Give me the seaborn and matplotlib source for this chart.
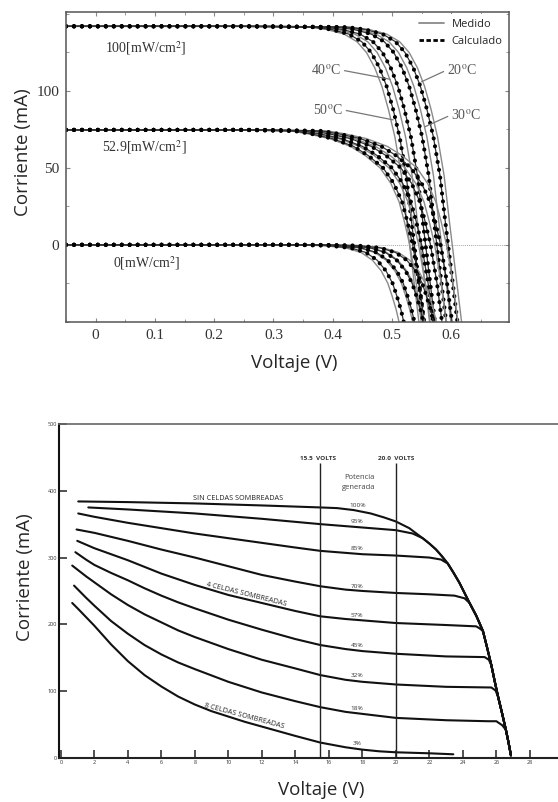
import matplotlib
matplotlib.use('Agg')
import matplotlib.pyplot as plt
from matplotlib.lines import Line2D
from matplotlib.ticker import MultipleLocator
import seaborn as sns

sns.set_style('ticks')
plt.rcParams['font.family'] = ['Open Sans', 'DejaVu Sans']
plt.rcParams['mathtext.fontset'] = 'stix'

# ---------------- top chart: I-V curves, 3 irradiances x 4 temperatures ----------------
# current levels (mA) read along each irradiance family
i_g100 = [142, 142, 141.5, 140, 137, 132, 125, 115, 103, 88, 70, 45, 15, -20, -55]
i_g53 = [74.7, 74.7, 74, 72, 69, 64, 58, 50, 40, 28, 15, 0, -25, -55]
i_g0 = [0, 0, -0.5, -2, -5, -10, -17, -25, -33, -42, -52, -60]

# voltages (V) at those levels, measured (m) and calculated (c), 20/30/40/50 C
v100_m20 = [-0.05, 0.301, 0.431, 0.461, 0.491, 0.513, 0.529, 0.543, 0.555, 0.566, 0.577, 0.588, 0.597, 0.608, 0.619]
v100_m30 = [-0.05, 0.283, 0.413, 0.443, 0.473, 0.495, 0.511, 0.525, 0.537, 0.548, 0.559, 0.570, 0.579, 0.590, 0.601]
v100_m40 = [-0.05, 0.247, 0.377, 0.407, 0.437, 0.459, 0.475, 0.489, 0.501, 0.512, 0.523, 0.534, 0.543, 0.554, 0.565]
v100_m50 = [-0.05, 0.229, 0.359, 0.389, 0.419, 0.441, 0.457, 0.471, 0.483, 0.494, 0.505, 0.516, 0.525, 0.536, 0.547]
v100_c20 = [-0.05, 0.294, 0.424, 0.454, 0.484, 0.506, 0.522, 0.536, 0.548, 0.559, 0.570, 0.581, 0.590, 0.601, 0.612]
v100_c30 = [-0.05, 0.275, 0.405, 0.435, 0.465, 0.487, 0.503, 0.517, 0.529, 0.540, 0.551, 0.562, 0.571, 0.582, 0.593]
v100_c40 = [-0.05, 0.256, 0.386, 0.416, 0.446, 0.468, 0.484, 0.498, 0.510, 0.521, 0.532, 0.543, 0.552, 0.563, 0.574]
v100_c50 = [-0.05, 0.237, 0.367, 0.397, 0.427, 0.449, 0.465, 0.479, 0.491, 0.502, 0.513, 0.524, 0.533, 0.544, 0.555]

v53_m20 = [-0.05, 0.292, 0.392, 0.422, 0.457, 0.492, 0.517, 0.542, 0.560, 0.574, 0.583, 0.592, 0.603, 0.613]
v53_m30 = [-0.05, 0.272, 0.372, 0.402, 0.437, 0.472, 0.497, 0.522, 0.540, 0.554, 0.563, 0.572, 0.583, 0.593]
v53_m40 = [-0.05, 0.245, 0.345, 0.375, 0.410, 0.445, 0.470, 0.495, 0.513, 0.527, 0.536, 0.545, 0.556, 0.566]
v53_m50 = [-0.05, 0.230, 0.330, 0.360, 0.395, 0.430, 0.455, 0.480, 0.498, 0.512, 0.521, 0.530, 0.541, 0.551]
v53_c20 = [-0.05, 0.282, 0.382, 0.412, 0.447, 0.482, 0.507, 0.532, 0.550, 0.564, 0.573, 0.582, 0.593, 0.603]
v53_c30 = [-0.05, 0.265, 0.365, 0.395, 0.430, 0.465, 0.490, 0.515, 0.533, 0.547, 0.556, 0.565, 0.576, 0.586]
v53_c40 = [-0.05, 0.250, 0.350, 0.380, 0.415, 0.450, 0.475, 0.500, 0.518, 0.532, 0.541, 0.550, 0.561, 0.571]
v53_c50 = [-0.05, 0.235, 0.335, 0.365, 0.400, 0.435, 0.460, 0.485, 0.503, 0.517, 0.526, 0.535, 0.546, 0.556]

v0_m20 = [-0.05, 0.375, 0.446, 0.485, 0.511, 0.530, 0.545, 0.556, 0.563, 0.570, 0.576, 0.580]
v0_m30 = [-0.05, 0.355, 0.426, 0.465, 0.491, 0.510, 0.525, 0.536, 0.543, 0.550, 0.556, 0.560]
v0_m40 = [-0.05, 0.335, 0.406, 0.445, 0.471, 0.490, 0.505, 0.516, 0.523, 0.530, 0.536, 0.540]
v0_m50 = [-0.05, 0.312, 0.383, 0.422, 0.448, 0.467, 0.482, 0.493, 0.500, 0.507, 0.513, 0.517]
v0_c20 = [-0.05, 0.370, 0.441, 0.480, 0.506, 0.525, 0.540, 0.551, 0.558, 0.565, 0.571, 0.575]
v0_c30 = [-0.05, 0.353, 0.424, 0.463, 0.489, 0.508, 0.523, 0.534, 0.541, 0.548, 0.554, 0.558]
v0_c40 = [-0.05, 0.338, 0.409, 0.448, 0.474, 0.493, 0.508, 0.519, 0.526, 0.533, 0.539, 0.543]
v0_c50 = [-0.05, 0.320, 0.391, 0.430, 0.456, 0.475, 0.490, 0.501, 0.508, 0.515, 0.521, 0.525]

irr_labels = ['100[mW/cm$^2$]', '52.9[mW/cm$^2$]', '0[mW/cm$^2$]']
temp_labels = ['40', '20', '50', '30']

# ---------------- bottom chart: module curves with shaded cells ----------------
# common drop-off shared by all curves once they reach it
env_v = [21.6, 22.0, 22.4, 22.75, 23.1, 23.45, 23.8, 24.1, 24.4, 24.8, 25.2, 25.45, 25.7, 25.9, 26.1, 26.35, 26.57, 26.72, 26.87]
env_i = [329, 321, 312, 302, 291, 277, 262, 247, 232, 213, 190, 165, 139, 115, 92, 66, 42, 24, 4]

v_p100 = [1.04, 4, 8, 12, 15.5, 16.5, 17.5, 18.5, 19.3, 20, 20.8]
i_p100 = [384, 383, 381, 378, 375, 374, 371, 366, 360, 354, 344]
v_p95 = [1.64, 4, 8, 12, 15.5, 18, 20, 21]
i_p95 = [375, 372, 366, 358, 350, 345, 341, 336]
v_p85 = [1.04, 2, 4, 6, 8, 10, 12, 14, 15.5, 18, 20, 22, 22.7]
i_p85 = [366, 361, 352, 344, 336, 329, 322, 315, 310, 305, 303, 300, 297]
v_p70 = [0.94, 2, 4, 6, 8, 10, 12, 14, 15.5, 17, 18, 20, 22, 23.5, 24.1]
i_p70 = [342, 337, 325, 312, 300, 287, 274, 264, 257, 252, 250, 247, 245, 243, 239]
v_p57 = [0.98, 2, 3, 4, 6, 8, 10, 12, 14, 15.5, 17, 18, 20, 23, 24.8, 25.0]
i_p57 = [325, 314, 305, 296, 276, 259, 244, 232, 220, 212, 208, 206, 202, 199, 197, 194]
v_p45 = [0.87, 1.5, 2, 3, 4, 5, 6, 7, 8, 10, 12, 14, 15.5, 17, 18, 20, 23, 25.3, 25.55]
i_p45 = [308, 297, 289, 277, 266, 254, 243, 233, 224, 207, 192, 178, 169, 163, 160, 156, 152, 151, 147]
v_p32 = [0.68, 1.5, 2, 3, 4, 5, 6, 7, 8, 10, 12, 14, 15.5, 17, 18, 20, 23, 25.7, 25.95]
i_p32 = [288, 272, 263, 245, 229, 215, 203, 191, 181, 163, 147, 134, 124, 117, 114, 110, 106.5, 105.5, 101]
v_p18 = [0.79, 1.5, 2, 3, 4, 5, 6, 7, 8, 10, 12, 14, 15.5, 17, 18, 20, 23, 25.5, 26.0, 26.35]
i_p18 = [258, 240, 228, 205, 186, 169, 155, 143, 133, 114, 98, 85, 76, 69, 66, 60, 56.5, 55, 55, 49]
v_p3 = [0.68, 1, 1.5, 2, 3, 4, 5, 6, 7, 8, 9, 10, 11, 12, 13, 14, 15.5, 17, 18, 19, 20, 22, 23.43]
i_p3 = [232, 224, 211, 198, 170, 145, 124, 107, 92, 80, 70, 62, 54, 47, 40, 33, 23, 16, 12.5, 10, 8.5, 7, 5.5]
# index into the shared drop-off where each curve joins it
join_at = [0, 0, 4, 8, 10, 12, 14, 16, None]

pct_labels = ['100%', '95%', '85%', '70%', '57%', '45%', '32%', '18%', '3%']
pct_i = [378, 354, 314, 257, 213, 169, 123, 74, 22]
volt_marks = [15.5, 20.0]


fig = plt.figure(figsize=(5.58, 8.02), dpi=100)
ax1 = fig.add_axes([0.1183, 0.5981, 0.7939, 0.3869])
ax2 = fig.add_axes([0.1057, 0.0549, 0.8943, 0.4165])

# ---- top ----
ax1.axhline(0, color='#a8a8a8', linewidth=0.7, linestyle=(0, (1, 1)), zorder=0)
groups = [
    (i_g100, [v100_m20, v100_m30, v100_m40, v100_m50], [v100_c20, v100_c30, v100_c40, v100_c50]),
    (i_g53, [v53_m20, v53_m30, v53_m40, v53_m50], [v53_c20, v53_c30, v53_c40, v53_c50]),
    (i_g0, [v0_m20, v0_m30, v0_m40, v0_m50], [v0_c20, v0_c30, v0_c40, v0_c50]),
]
for cur, meas, calc in groups:
    for v in meas:
        sns.lineplot(x=v, y=cur, ax=ax1, sort=False, estimator=None,
                     color='#8a8a8a', linewidth=1.0)
    for v in calc:
        sns.lineplot(x=v, y=cur, ax=ax1, sort=False, estimator=None,
                     color='#333333', linewidth=0.9)
        sns.lineplot(x=v, y=cur, ax=ax1, sort=False, estimator=None,
                     color='black', linewidth=3.0, linestyle=(0, (0.01, 1.9)),
                     dash_capstyle='round')

ax1.set_xlim(-0.05, 0.6975)
ax1.set_ylim(-50.4, 151.3)
ax1.set_xticks([0, 0.1, 0.2, 0.3, 0.4, 0.5, 0.6])
ax1.set_xticklabels(['0', '0.1', '0.2', '0.3', '0.4', '0.5', '0.6'])
ax1.set_yticks([0, 50, 100])
ax1.xaxis.set_minor_locator(MultipleLocator(0.05))
ax1.yaxis.set_minor_locator(MultipleLocator(25))
ax1.tick_params(which='both', direction='in', top=True, right=True, color='#888888')
ax1.tick_params(which='major', length=3, pad=5, labelsize=11, labelcolor='#333333')
ax1.tick_params(which='minor', length=2)
for lab in ax1.get_xticklabels() + ax1.get_yticklabels():
    lab.set_family('Liberation Serif')
for sp in ax1.spines.values():
    sp.set_color('#555555')
    sp.set_linewidth(1.1)
ax1.set_xlabel('')
ax1.set_ylabel('')

irr_pos = [(0.015, 127.7), (0.010, 63.8), (0.030, -11.9)]
for txt, (x, y) in zip(irr_labels, irr_pos):
    ax1.text(x, y, txt, family='Liberation Serif', fontsize=10, color='#333333',
             ha='left', va='center')

lab_pos = [(0.389, 113.6), (0.618, 113.6), (0.392, 87.7), (0.625, 84.4)]
lead_end = [(0.497, 107.6), (0.550, 106.0), (0.502, 81.2), (0.556, 76.8)]
for t, (x, y), end in zip(temp_labels, lab_pos, lead_end):
    left = x < 0.5
    ax1.annotate(t + r'$^{\rm o}$C', xy=end, xytext=(x, y), family='Liberation Serif',
                 fontsize=10, color='#555555', ha='center', va='center',
                 arrowprops=dict(arrowstyle='-', color='#777777', lw=0.9,
                                 shrinkA=0, shrinkB=0,
                                 relpos=(1.0, 0.5) if left else (0.0, 0.5)))

handles = [Line2D([], [], color='#8a8a8a', linewidth=1.3),
           Line2D([], [], color='black', linewidth=2.0, linestyle=(0, (1.6, 0.9)))]
leg = ax1.legend(handles, ['Medido', 'Calculado'], loc='upper right', fontsize=8,
                 frameon=True, facecolor='white', edgecolor='none', framealpha=1,
                 handlelength=2.2, handletextpad=0.7, labelspacing=0.55,
                 borderaxespad=0.2, borderpad=0.4)

# ---- bottom ----
curves = [(v_p100, i_p100), (v_p95, i_p95), (v_p85, i_p85), (v_p70, i_p70), (v_p57, i_p57),
          (v_p45, i_p45), (v_p32, i_p32), (v_p18, i_p18), (v_p3, i_p3)]
for (v, cur), k in zip(curves, join_at):
    xs = list(v) + (env_v[k:] if k is not None else [])
    ys = list(cur) + (env_i[k:] if k is not None else [])
    sns.lineplot(x=xs, y=ys, ax=ax2, sort=False, estimator=None, color='#111111', linewidth=1.5)

for vm in volt_marks:
    ax2.vlines(vm, 0, 441, color='#222222', linewidth=1.0)
ax2.text(15.35, 448.6, '15.5  VOLTS', fontsize=4.6, fontweight='bold', ha='center', va='center', color='#333333')
ax2.text(20.0, 448.6, '20.0  VOLTS', fontsize=4.6, fontweight='bold', ha='center', va='center', color='#333333')
ax2.text(17.8, 419.6, 'Potencia', fontsize=5.5, ha='center', va='center', color='#444444')
ax2.text(17.8, 404.6, 'generada', fontsize=5.5, ha='center', va='center', color='#444444')
for lab, yy in zip(pct_labels, pct_i):
    ax2.text(17.7, yy, lab, fontsize=4.6, ha='center', va='center', color='#333333')
ax2.text(10.6, 388.8, 'SIN CELDAS SOMBREADAS', fontsize=5.2, ha='center', va='center', color='#222222')
ax2.text(11.09, 244, '4 CELDAS SOMBREADAS', fontsize=5.2, ha='center', va='center', rotation=-14, color='#222222')
ax2.text(10.93, 63, '8 CELDAS SOMBREADAS', fontsize=5.2, ha='center', va='center', rotation=-15, color='#222222')

ax2.set_xlim(-0.11, 29.68)
ax2.set_ylim(0, 500)
ax2.set_xticks(range(0, 29, 2))
ax2.set_yticks([0, 100, 200, 300, 400, 500])
ax2.tick_params(direction='in', length=5.5, width=1.1, color='#222222', labelsize=4,
                labelcolor='#333333', pad=1.5)
ax2.spines['right'].set_visible(False)
ax2.spines['left'].set_linewidth(1.5)
ax2.spines['bottom'].set_linewidth(1.5)
ax2.spines['left'].set_color('#111111')
ax2.spines['bottom'].set_color('#222222')
ax2.spines['top'].set_color('#666666')
ax2.spines['top'].set_linewidth(1.2)
ax2.set_xlabel('')
ax2.set_ylabel('')

# axis titles
fig.text(0.041, 0.810, 'Corriente (mA)', rotation=90, fontsize=13.5, ha='center', va='center')
fig.text(0.528, 0.5474, 'Voltaje (V)', fontsize=13.5, ha='center', va='center')
fig.text(0.045, 0.2805, 'Corriente (mA)', rotation=90, fontsize=13.5, ha='center', va='center')
fig.text(0.575, 0.015, 'Voltaje (V)', fontsize=13.5, ha='center', va='center')

fig.savefig('out.png', dpi=100, facecolor='white')
